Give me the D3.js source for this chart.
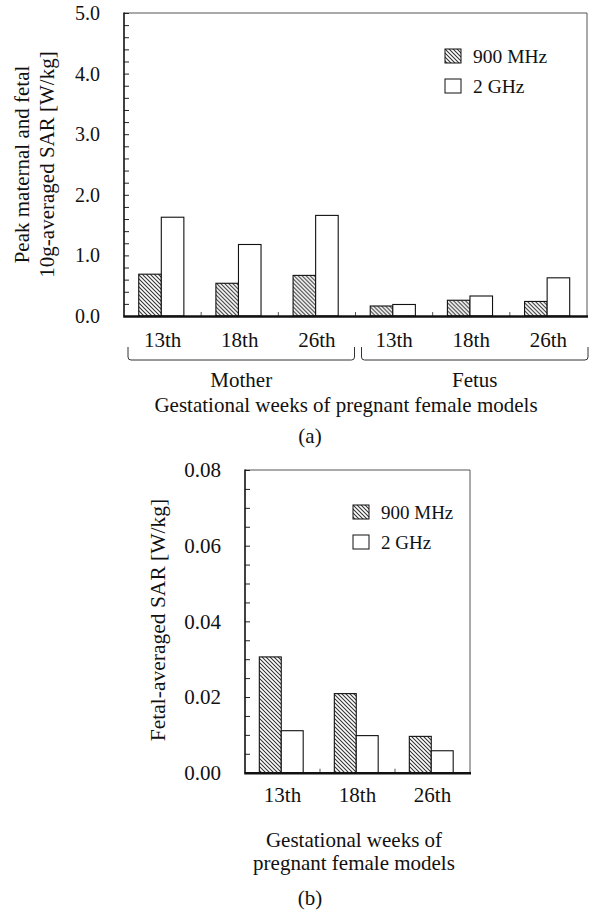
<!DOCTYPE html>
<html>
<head>
<meta charset="utf-8">
<script src="https://cdn.jsdelivr.net/npm/d3@7"></script>
<style>
  body { margin: 0; background: #fff; }
</style>
</head>
<body>
<div id="chart"></div>
<script>
// data
var weeks = ['13th', '18th', '26th'];
var subjects = ['Mother', 'Fetus'];
var series = ['900 MHz', '2 GHz'];

// (a) peak 10g-averaged SAR [W/kg], Mother 13/18/26 then Fetus 13/18/26
var peak_900 = [0.69, 0.54, 0.67, 0.165, 0.26, 0.24];
var peak_2g  = [1.63, 1.18, 1.66, 0.19, 0.33, 0.63];
var peak_ticks = [0, 1, 2, 3, 4, 5];

// (b) fetal-averaged SAR [W/kg]
var fetal_900 = [0.0306, 0.0209, 0.0096];
var fetal_2g  = [0.0111, 0.0098, 0.0058];
var fetal_ticks = [0, 0.02, 0.04, 0.06, 0.08];

var serif = "'Liberation Serif'";

var svg = d3.select('#chart')
    .append('svg')
    .attr('width', 592)
    .attr('height', 913)
    .style('font-family', serif);

// hatch for 900 MHz bars
svg.append('defs').append('pattern')
    .attr('id', 'hatch')
    .attr('patternUnits', 'userSpaceOnUse')
    .attr('width', 4)
    .attr('height', 4)
  .append('path')
    .attr('d', 'M-1,-1L5,5M-1,3L1,5M3,-1L5,1')
    .attr('stroke', '#333')
    .attr('stroke-width', 1.1);

var fills = ['url(#hatch)', '#fff'];

function label(sel) {
    return sel.style('font-family', serif).attr('fill', '#111');
}

function draw_panel(opt) {
    var g = svg.append('g');
    var left = opt.left, right = opt.right, top = opt.top, bottom = opt.bottom;

    var y = d3.scaleLinear().domain(opt.domain).range([bottom, top]);
    var x0 = d3.scaleBand().domain(opt.cats).range([left, right]);
    var x1 = d3.scaleBand().domain(series).range([0, x0.bandwidth()])
        .paddingOuter(0.71).align(0.46);

    var rows = opt.cats.map(function(c, i) {
        return {cat: c, values: [opt.a[i], opt.b[i]]};
    });

    // frame: thin top and right
    g.append('path')
        .attr('d', 'M' + left + ',' + top + 'H' + right + 'V' + bottom)
        .attr('fill', 'none')
        .attr('stroke', '#555')
        .attr('stroke-width', 1);

    // bars
    var grp = g.selectAll('.grp')
        .data(rows)
        .enter()
        .append('g')
        .attr('transform', function(d) { return 'translate(' + x0(d.cat) + ',0)'; });

    grp.selectAll('rect')
        .data(function(d) { return d.values; })
        .enter()
        .append('rect')
        .attr('x', function(d, i) { return x1(series[i]); })
        .attr('y', function(d) { return y(d); })
        .attr('width', x1.bandwidth())
        .attr('height', function(d) { return bottom - y(d); })
        .attr('fill', function(d, i) { return fills[i]; })
        .attr('stroke', '#111')
        .attr('stroke-width', 1.1);

    // left axis with inward ticks
    var y_axis = d3.axisRight(y)
        .tickValues(d3.range(0, opt.domain[1] + opt.minor / 2, opt.minor))
        .tickSize(5)
        .tickFormat('');
    var ya = g.append('g')
        .attr('transform', 'translate(' + left + ',0)')
        .call(y_axis);
    ya.select('.domain').remove();
    ya.selectAll('line').attr('stroke', '#222').attr('stroke-width', 1);
    g.append('line')
        .attr('x1', left).attr('x2', left)
        .attr('y1', top - 0.5).attr('y2', bottom)
        .attr('stroke', '#111').attr('stroke-width', 1.6);

    g.selectAll('.ylab')
        .data(opt.ticks)
        .enter()
        .append('text')
        .call(label)
        .attr('x', left - 24)
        .attr('y', function(d) { return y(d); })
        .attr('dy', '0.35em')
        .attr('text-anchor', 'end')
        .style('font-size', opt.tick_size + 'px')
        .text(d3.format(opt.fmt));

    // small upward ticks between groups
    g.selectAll('.xt')
        .data(opt.cats.slice(1))
        .enter()
        .append('line')
        .attr('x1', function(d) { return x0(d); })
        .attr('x2', function(d) { return x0(d); })
        .attr('y1', bottom)
        .attr('y2', bottom - 4)
        .attr('stroke', '#555')
        .attr('stroke-width', 1);

    // bottom axis, thick
    g.append('line')
        .attr('x1', left - 0.8).attr('x2', right + 1)
        .attr('y1', bottom + 0.5).attr('y2', bottom + 0.5)
        .attr('stroke', '#111').attr('stroke-width', 2.6);

    // category labels
    g.selectAll('.xlab')
        .data(rows)
        .enter()
        .append('text')
        .call(label)
        .attr('x', function(d) { return x0(d.cat) + x0.bandwidth() / 2; })
        .attr('y', opt.cat_y)
        .attr('text-anchor', 'middle')
        .style('font-size', '21px')
        .text(function(d) { return d.cat.split('|')[1]; });

    // legend
    var lg = g.selectAll('.leg')
        .data(series)
        .enter()
        .append('g')
        .attr('transform', function(d, i) {
            return 'translate(' + opt.leg_x + ',' + (opt.leg_y + i * 30) + ')';
        });
    lg.append('rect')
        .attr('width', 16).attr('height', 14)
        .attr('fill', function(d, i) { return fills[i]; })
        .attr('stroke', '#111')
        .attr('stroke-width', 1);
    lg.append('text')
        .call(label)
        .attr('x', 28)
        .attr('y', 14)
        .style('font-size', opt.leg_size + 'px')
        .text(function(d) { return d; });

    return {x0: x0, y: y};
}

function add_text(x, y, txt, size, rot) {
    var t = svg.append('text')
        .call(label)
        .attr('text-anchor', 'middle')
        .style('font-size', size + 'px')
        .text(txt);
    if (rot) t.attr('transform', 'translate(' + x + ',' + y + ') rotate(-90)');
    else t.attr('x', x).attr('y', y);
    return t;
}

// ---- panel (a)
var cats_a = [];
subjects.forEach(function(s) {
    weeks.forEach(function(w) { cats_a.push(s + '|' + w); });
});

var pa = draw_panel({
    cats: cats_a, a: peak_900, b: peak_2g,
    domain: [0, 5], minor: 0.2, ticks: peak_ticks, fmt: '.1f', tick_size: 20,
    left: 124, right: 587, top: 13, bottom: 316,
    cat_y: 346.5, leg_x: 445, leg_y: 49, leg_size: 19.5
});

// y title (a)
add_text(29, 164.5, 'Peak maternal and fetal', 21, true);
add_text(54, 164.5, '10g-averaged SAR [W/kg]', 21, true);

// brackets under the week labels
var bw = pa.x0.bandwidth();
var brackets = subjects.map(function(s, i) {
    var first = pa.x0(s + '|' + weeks[0]);
    var last = pa.x0(s + '|' + weeks[weeks.length - 1]) + bw;
    return {name: s, x1: first + (i === 0 ? 4 : 6), x2: last + (i === 0 ? -1 : 1)};
});

svg.selectAll('.brace')
    .data(brackets)
    .enter()
    .append('path')
    .attr('d', function(d) {
        return 'M' + d.x1 + ',347V357Q' + d.x1 + ',360 ' + (d.x1 + 3) + ',360H' +
            (d.x2 - 3) + 'Q' + d.x2 + ',360 ' + d.x2 + ',357V347';
    })
    .attr('fill', 'none')
    .attr('stroke', '#333')
    .attr('stroke-width', 1);

brackets.forEach(function(d) {
    add_text((d.x1 + d.x2) / 2, 387, d.name, 21);
});

add_text(346, 412, 'Gestational weeks of pregnant female models', 21);
add_text(310, 443, '(a)', 21);

// ---- panel (b)
draw_panel({
    cats: weeks.map(function(w) { return 'Fetus|' + w; }), a: fetal_900, b: fetal_2g,
    domain: [0, 0.08], minor: 0.005, ticks: fetal_ticks, fmt: '.2f', tick_size: 21,
    left: 245, right: 470, top: 470, bottom: 772.7,
    cat_y: 801.5, leg_x: 353, leg_y: 505, leg_size: 19
});

add_text(165, 620, 'Fetal-averaged SAR [W/kg]', 21.5, true);
add_text(354, 847, 'Gestational weeks of', 21);
add_text(354, 870, 'pregnant female models', 21);
add_text(310, 905, '(b)', 21);
</script>
</body>
</html>
